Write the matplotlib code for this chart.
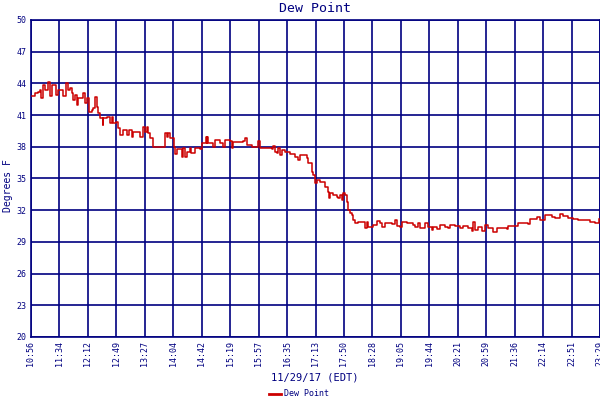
import matplotlib
matplotlib.use("Agg")
import matplotlib.pyplot as plt
import numpy as np

# minutes after 10:56 EDT
minutes = [0.9, 5.3, 9.7, 11.9, 13.2, 16.3, 18.5, 22.9, 25.1, 27.4, 31.8, 33.1, 36.2, 40.6, 42.8,
           46.3, 49.4, 51.6, 53.8, 56.0, 58.2, 60.4, 62.6, 67.1, 69.3, 71.5, 73.7, 77.2, 80.3, 82.5,
           84.7, 86.9, 89.1, 91.3, 94.8, 95.7, 100.1, 104.5, 106.8, 109.0, 112.5, 115.6, 117.8, 122.2,
           126.6, 130.1, 133.2, 135.4, 142.0, 144.3, 148.7, 150.9, 153.1, 155.3, 157.5, 161.9, 175.1,
           177.3, 179.5, 181.7, 184.0, 188.4, 189.2, 190.6, 192.8, 197.2, 199.4, 201.6, 203.8, 206.0,
           210.4, 211.7, 214.8, 217.0, 223.7, 226.7, 231.1, 232.5, 233.4, 234.7, 241.3, 243.5, 247.9,
           250.1, 254.5, 256.7, 263.4, 265.6, 267.8, 281.0, 283.2, 285.4, 292.0, 298.6, 300.8, 303.1,
           318.5, 320.7, 322.9, 325.1, 327.3, 329.5, 331.7, 336.1, 342.8, 349.4, 353.8, 356.0, 362.6,
           364.8, 367.0, 371.4, 373.6, 375.8, 378.0, 382.5, 389.1, 393.5, 394.4, 395.7, 400.1, 404.5,
           406.7, 408.9, 411.1, 413.3, 415.5, 417.7, 420.0, 422.2, 424.4, 426.6, 428.8, 433.2, 441.1,
           442.0, 444.2, 446.4, 450.8, 453.0, 457.4, 461.9, 464.1, 468.5, 472.9, 477.3, 481.7, 483.9,
           488.3, 490.5, 497.1, 506.0, 508.2, 512.6, 514.8, 521.4, 525.8, 530.2, 532.4, 536.8, 541.3,
           547.9, 552.3, 554.5, 561.1, 567.7, 572.1, 578.7, 583.2, 585.4, 587.6, 592.0, 596.4, 600.8,
           605.2, 611.8, 616.2, 622.8, 629.5, 631.7, 642.7, 644.9, 658.2, 660.4, 667.0, 669.2, 673.6,
           680.2, 684.6, 689.0, 693.5, 697.9, 700.1, 704.5, 711.1, 717.7, 724.3, 730.9, 733.1, 739.7,
           746.4, 750.8, 751.7]
dew_point = [42.84, 43.06, 43.22, 43.38, 42.65, 43.85, 43.38, 44.10, 42.84, 43.85, 43.85, 42.90, 43.38,
             43.38, 42.84, 44.00, 43.38, 43.53, 43.06, 42.43, 42.90, 41.96, 42.59, 42.59, 43.06, 42.11,
             42.59, 41.32, 41.48, 41.64, 42.74, 41.80, 41.17, 40.69, 40.06, 40.69, 40.85, 40.22, 40.85,
             40.22, 40.38, 39.75, 39.12, 39.59, 39.12, 39.59, 38.96, 39.43, 39.43, 38.96, 39.91, 39.43,
             39.91, 39.27, 38.80, 38.01, 38.01, 39.27, 38.96, 39.27, 38.80, 38.80, 38.01, 37.29, 37.79,
             37.79, 37.07, 37.86, 37.07, 37.54, 37.86, 37.38, 37.38, 37.86, 37.79, 38.33, 38.96, 38.33,
             38.96, 38.33, 38.01, 38.64, 38.64, 38.33, 38.01, 38.64, 38.55, 37.86, 38.49, 38.55, 38.86,
             38.17, 38.01, 38.01, 38.55, 37.86, 37.76, 38.11, 37.54, 37.38, 37.86, 37.22, 37.70, 37.48,
             37.32, 37.07, 36.75, 37.22, 37.22, 36.91, 36.44, 35.65, 35.33, 34.54, 34.86, 34.70, 34.23,
             33.75, 33.12, 33.60, 33.44, 33.28, 33.12, 33.44, 32.97, 33.60, 33.44, 32.81, 32.02, 31.77,
             31.55, 31.07, 30.76, 30.92, 30.92, 30.28, 30.92, 30.38, 30.44, 30.60, 30.98, 30.82, 30.38,
             30.76, 30.82, 30.66, 31.07, 30.51, 30.38, 30.92, 30.76, 30.60, 30.38, 30.82, 30.28, 30.76,
             30.38, 30.13, 30.38, 30.19, 30.60, 30.38, 30.28, 30.60, 30.51, 30.28, 30.54, 30.28, 30.03,
             30.92, 30.13, 30.44, 30.03, 30.60, 30.28, 29.97, 30.35, 30.28, 30.19, 30.47, 30.47, 30.76,
             30.66, 31.17, 31.17, 31.33, 31.07, 31.55, 31.55, 31.39, 31.30, 31.23, 31.64, 31.48, 31.30,
             31.17, 31.07, 31.11, 31.07, 30.92, 30.82, 30.76, 31.14]

x_labels = ["10:56", "11:34", "12:12", "12:49", "13:27", "14:04", "14:42", "15:19", "15:57", "16:35",
            "17:13", "17:50", "18:28", "19:05", "19:44", "20:21", "20:59", "21:36", "22:14", "22:51",
            "23:29"]
y_ticks = [20, 23, 26, 29, 32, 35, 38, 41, 44, 47, 50]
total_minutes = 753

navy = "#000080"
red = "#CC0000"
mono = "DejaVu Sans Mono"

fig = plt.figure(figsize=(6, 4), dpi=100)
ax = fig.add_axes([31 / 600, 1 - 337 / 400, 569 / 600, 317 / 400])

ax.plot(minutes, dew_point, color=red, lw=1.1, drawstyle="steps-post", label="Dew Point",
        zorder=3)

ax.set_xlim(0, total_minutes)
ax.set_ylim(20, 50)
ax.set_xticks(np.linspace(0, total_minutes, len(x_labels)))
ax.set_xticklabels(x_labels, rotation=90, fontsize=6, family=mono, color=navy)
ax.set_yticks(y_ticks)
ax.set_yticklabels([str(v) for v in y_ticks], fontsize=6, family=mono, color=navy)
ax.tick_params(length=0, pad=3)
ax.grid(True, color=navy, lw=1.2)
ax.set_axisbelow(True)
for side in ["top", "right", "bottom", "left"]:
    ax.spines[side].set_color(navy)
    ax.spines[side].set_linewidth(1.2)

fig.text(315 / 600, 1 - 9 / 400, "Dew Point", ha="center", va="center", fontsize=9.5,
         family=mono, color=navy)
fig.text(315 / 600, 1 - 378 / 400, "11/29/17 (EDT)", ha="center", va="center", fontsize=7.5,
         family=mono, color=navy)
fig.text(8 / 600, 1 - 186 / 400, "Degrees F", ha="center", va="center", rotation=90,
         fontsize=7, family=mono, color=navy)

leg = fig.legend(loc="center", bbox_to_anchor=(299 / 600, 1 - 394 / 400), frameon=False,
                 fontsize=6, handlelength=1.4, handletextpad=0.3, borderpad=0)
for t in leg.get_texts():
    t.set_color(navy)
    t.set_family(mono)
for h in leg.get_lines():
    h.set_linewidth(2)

fig.savefig("out.png", dpi=100)
